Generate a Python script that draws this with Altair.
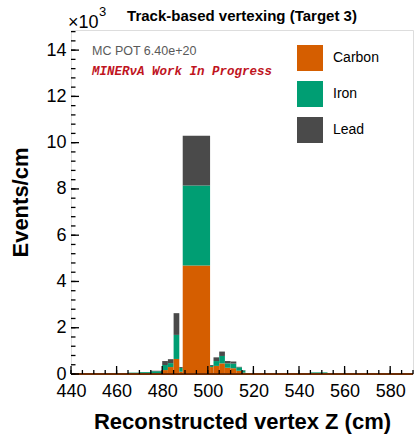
import altair as alt
import pandas as pd

# Histogram bins (cm) and per-material rates (thousands of events / cm)
bin_lo = [465, 470, 475, 480, 482.5, 485, 487.5, 489, 501, 502.5, 505, 507.5, 510, 512.5, 515, 545]
bin_hi = [470, 475, 480, 482.5, 485, 487.5, 489, 501, 502.5, 505, 507.5, 510, 512.5, 515, 516.5, 552.5]
carbon = [0.01, 0.01, 0.03, 0.17, 0.30, 0.65, 0.10, 4.69, 0.30, 0.35, 0.46, 0.27, 0.25, 0.14, 0.06, 0.00]
iron = [0.05, 0.07, 0.09, 0.22, 0.17, 1.04, 0.16, 3.46, 0.05, 0.21, 0.32, 0.19, 0.20, 0.15, 0.09, 0.07]
lead = [0.00, 0.00, 0.02, 0.17, 0.17, 0.94, 0.04, 2.15, 0.04, 0.16, 0.19, 0.10, 0.09, 0.02, 0.02, 0.00]

materials = ["Carbon", "Iron", "Lead"]
colors = ["#d55e00", "#009e73", "#4a4a4a"]

x_labels = [440, 460, 480, 500, 520, 540, 560, 580]
y_labels = [0, 2, 4, 6, 8, 10, 12, 14]
x_minor = [440 + 5 * i for i in range(31)]
y_minor = [round(0.4 * i, 1) for i in range(38)]

title_text = "Track-based vertexing (Target 3)"
pot_text = "MC POT 6.40e+20"
wip_text = "MINERνA Work In Progress"

W, H = 342, 344

# stack the three materials bin by bin
rows = []
for lo, hi, c, fe, pb in zip(bin_lo, bin_hi, carbon, iron, lead):
    base = 0.0
    for name, v in zip(materials, [c, fe, pb]):
        rows.append({"lo": lo, "hi": hi, "material": name, "y0": base, "y1": base + v})
        base += v
df = pd.DataFrame(rows)

x_scale = alt.Scale(domain=[440, 590], nice=False, zero=False)
y_scale = alt.Scale(domain=[0, 14.87], nice=False, zero=True)
color_scale = alt.Scale(domain=materials, range=colors)

# one axis definition shared by every layer so the merged axes stay identical
x_axis = alt.Axis(
    values=x_labels, ticks=False, tickSize=0, domain=False, grid=False,
    labelFontSize=18, labelPadding=8, labelFlush=False, labelOverlap=False,
    labelColor="black", title="Reconstructed vertex Z (cm)", titleFontSize=22,
    titleFontWeight="bold", titleColor="black", titleX=W / 2, titleY=54,
    titleBaseline="alphabetic", titleAlign="center")
y_axis = alt.Axis(
    values=y_labels, ticks=False, tickSize=0, domain=False, grid=False,
    labelFontSize=18, labelPadding=5, labelFlush=False, labelOverlap=False,
    labelColor="black", title="Events/cm", titleFontSize=22, titleFontWeight="bold",
    titleColor="black", titleAngle=270, titleX=-44, titleY=H / 2,
    titleBaseline="alphabetic", titleAlign="center")

bars = alt.Chart(df).mark_rect().encode(
    x=alt.X("lo:Q", scale=x_scale, axis=x_axis),
    x2="hi:Q",
    y=alt.Y("y0:Q", scale=y_scale, axis=y_axis),
    y2="y1:Q",
    color=alt.Color("material:N", scale=color_scale, legend=alt.Legend(
        title=None, orient="none", legendX=226, legendY=15, padding=0,
        symbolType="square", symbolSize=676, symbolStrokeWidth=0, symbolOpacity=1,
        labelFontSize=14, labelColor="black", labelOffset=10,
        rowPadding=10)),
)

# brown baseline along zero
base_line = alt.Chart(pd.DataFrame({"v": [0]})).mark_rule(color="#6b2d05", strokeWidth=2).encode(
    y=alt.Y("v:Q", scale=y_scale, axis=y_axis), x=alt.value(0), x2=alt.value(W))

def x_ticks(values, length):
    return alt.Chart(pd.DataFrame({"v": values})).mark_rule(color="black", strokeWidth=1.3).encode(
        x=alt.X("v:Q", scale=x_scale, axis=x_axis), y=alt.value(H), y2=alt.value(H - length))

def y_ticks(values, length):
    return alt.Chart(pd.DataFrame({"v": values})).mark_rule(color="black", strokeWidth=1.3).encode(
        y=alt.Y("v:Q", scale=y_scale, axis=y_axis), x=alt.value(0), x2=alt.value(length))

def label(text, x, y, **kw):
    return alt.Chart(pd.DataFrame({"t": [text]})).mark_text(**kw).encode(
        x=alt.value(x), y=alt.value(y), text="t:N")

title = label(title_text, 171, -9, fontSize=15, fontWeight="bold",
              align="center", baseline="alphabetic", color="black")
times10 = label("×10", -3, -2, fontSize=18, align="left", baseline="alphabetic", color="black")
exponent = label("3", 28, -14, fontSize=13, align="left", baseline="alphabetic", color="black")
pot = label(pot_text, 21, 25, fontSize=12.5, align="left",
            baseline="alphabetic", color="#5a5a5a")
wip = label(wip_text, 21, 45, font="Liberation Mono", fontSize=12.5, fontWeight="bold",
            fontStyle="italic", align="left", baseline="alphabetic", color="#c0141e")

chart = alt.layer(
    bars, base_line,
    x_ticks(x_minor, 4), x_ticks(x_labels, 8),
    y_ticks(y_minor, 4.5), y_ticks(y_labels, 8),
    title, times10, exponent, pot, wip,
).properties(
    width=W, height=H, autosize="none",
    padding={"left": 71, "top": 30, "right": 2, "bottom": 63},
).configure_view(stroke="black", strokeWidth=2).configure(font="Liberation Sans")

chart.save("out.html", embed_options={"renderer": "svg", "actions": False})
